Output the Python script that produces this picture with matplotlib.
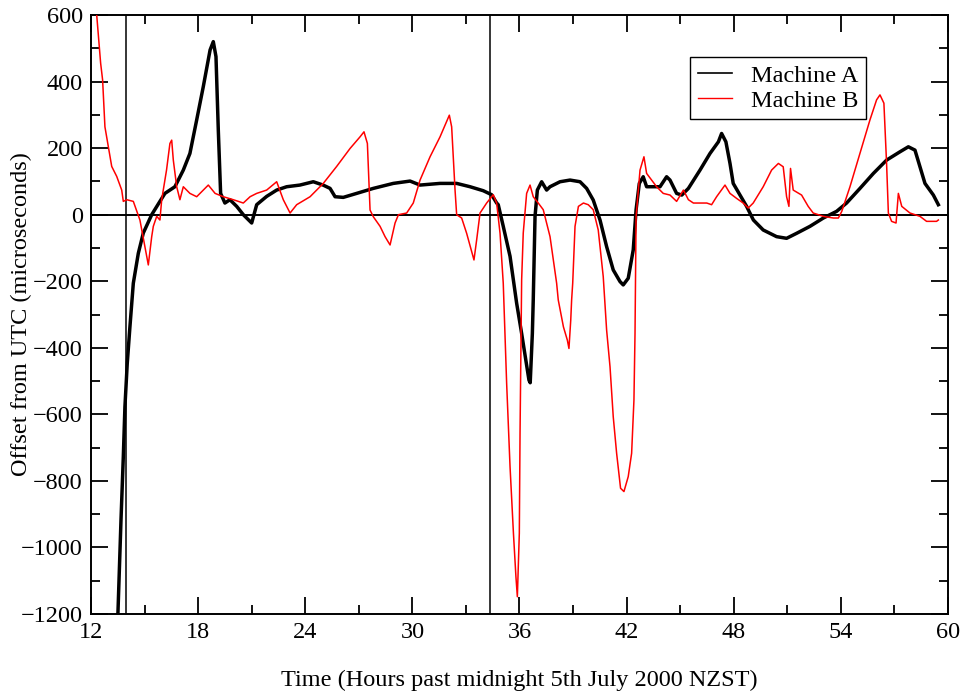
import matplotlib
matplotlib.use("Agg")
import matplotlib.pyplot as plt
from matplotlib.lines import Line2D
from matplotlib.ticker import MultipleLocator

plt.rcParams['font.family'] = ['Liberation Serif', 'DejaVu Serif']

# Machine A: offset from UTC (microseconds) vs hours past midnight
hours_a = [13.40, 13.51, 13.68, 13.81, 13.90, 14.03, 14.18, 14.37, 14.65, 14.93,
           15.40, 15.86, 16.14, 16.70, 17.17, 17.54, 17.92, 18.29, 18.67, 18.85,
           19.00, 19.13, 19.26, 19.50, 19.78, 20.16, 20.53, 21.00, 21.28, 21.84,
           22.40, 22.96, 23.70, 24.45, 25.00, 25.39, 25.67, 26.13, 26.88, 27.81,
           28.93, 29.87, 30.43, 31.55, 32.48, 33.23, 33.97, 34.44, 34.72, 34.81,
           35.09, 35.47, 35.84, 36.12, 36.53, 36.60, 36.72, 36.77, 36.87, 37.00,
           37.24, 37.52, 37.71, 38.27, 38.83, 39.39, 39.76, 40.13, 40.51, 40.88,
           41.25, 41.63, 41.81, 42.09, 42.37, 42.53, 42.71, 42.93, 43.12, 43.50,
           43.87, 44.24, 44.43, 44.80, 45.09, 45.46, 46.11, 46.67, 47.14, 47.32,
           47.56, 47.79, 47.97, 48.35, 48.72, 49.10, 49.65, 50.40, 50.96, 51.52,
           52.27, 53.02, 53.76, 54.32, 55.07, 55.82, 56.56, 57.31, 57.78, 58.15,
           58.43, 58.71, 59.18, 59.46]
offset_a = [-1260, -1195, -917, -727, -577, -447, -337, -206, -116, -55,
            0, 40, 64, 84, 134, 184, 285, 385, 495, 520,
            475, 254, 64, 35, 45, 25, 0, -25, 30, 55,
            74, 84, 89, 99, 89, 79, 54, 52, 64, 79,
            94, 101, 89, 94, 94, 84, 72, 60, 35, 30,
            -35, -125, -266, -357, -497, -505, -357, -256, -5, 74,
            99, 74, 84, 99, 104, 99, 79, 44, -16, -96,
            -166, -201, -211, -191, -106, 15, 94, 114, 84, 84,
            84, 114, 104, 64, 59, 79, 134, 184, 219, 244,
            219, 154, 94, 59, 25, -16, -46, -66, -71, -56,
            -35, -10, 10, 35, 79, 124, 164, 189, 204, 194,
            144, 94, 59, 30]

# Machine B
hours_b = [12.20, 12.32, 12.41, 12.54, 12.65, 12.78, 12.97, 13.16, 13.44, 13.72,
           13.81, 14.00, 14.37, 14.74, 15.02, 15.21, 15.40, 15.49, 15.68, 15.86,
           15.96, 16.23, 16.42, 16.52, 16.61, 16.80, 16.98, 17.17, 17.54, 17.92,
           18.29, 18.57, 18.95, 19.41, 19.97, 20.53, 20.91, 21.28, 21.84, 22.40,
           22.77, 23.15, 23.52, 24.27, 25.01, 25.76, 26.51, 27.07, 27.29, 27.48,
           27.63, 27.81, 28.19, 28.47, 28.75, 29.03, 29.22, 29.68, 30.05, 30.43,
           30.99, 31.55, 32.07, 32.20, 32.39, 32.48, 32.76, 33.04, 33.32, 33.45,
           33.60, 33.79, 34.16, 34.53, 34.72, 34.91, 35.09, 35.28, 35.47, 35.66,
           35.80, 35.88, 35.99, 36.03, 36.12, 36.21, 36.40, 36.59, 36.77, 37.05,
           37.33, 37.71, 38.08, 38.17, 38.46, 38.68, 38.77, 38.87, 38.92, 38.98,
           39.11, 39.30, 39.58, 39.85, 40.13, 40.41, 40.69, 40.88, 41.07, 41.25,
           41.44, 41.66, 41.85, 42.09, 42.28, 42.41, 42.47, 42.53, 42.75, 42.97,
           43.12, 43.68, 44.05, 44.43, 44.80, 45.18, 45.46, 45.74, 46.49, 46.76,
           47.04, 47.51, 47.79, 48.16, 48.53, 48.81, 49.09, 49.65, 50.12, 50.50,
           50.77, 50.96, 51.09, 51.18, 51.33, 51.80, 52.17, 52.45, 53.02, 53.58,
           53.86, 54.05, 54.51, 55.07, 55.63, 56.00, 56.19, 56.41, 56.56, 56.66,
           56.84, 57.09, 57.22, 57.41, 57.87, 58.43, 58.80, 59.36, 59.46]
offset_b = [650, 600, 540, 455, 405, 264, 204, 145, 115, 74,
            40, 45, 40, -16, -96, -151, -66, -35, -5, -16,
            45, 134, 214, 224, 164, 84, 45, 84, 64, 54,
            74, 89, 64, 54, 45, 35, 54, 64, 74, 99,
            45, 5, 30, 54, 94, 145, 199, 234, 249, 214,
            14, -6, -35, -66, -91, -25, 0, 5, 35, 104,
            174, 234, 299, 264, 74, 0, -10, -56, -111, -136,
            -76, 5, 35, 60, 35, -56, -206, -507, -757, -957,
            -1088, -1148, -957, -657, -196, -55, 64, 89, 54, 35,
            15, -66, -206, -256, -337, -377, -402, -317, -256, -206,
            -35, 25, 35, 30, 15, -46, -186, -347, -457, -607,
            -717, -822, -832, -787, -717, -557, -357, -5, 134, 174,
            124, 84, 64, 59, 40, 74, 45, 35, 35, 30,
            54, 89, 64, 49, 35, 20, 35, 84, 134, 154,
            144, 54, 25, 139, 74, 59, 25, 5, -5, -10,
            -10, 10, 84, 184, 285, 345, 360, 335, 154, 5,
            -20, -25, 64, 25, 5, -5, -20, -20, -16]

# clock step events
markers_h = [13.94, 34.35]

fs = 17.5

fig = plt.figure(figsize=(9.64, 6.95), dpi=100)
ax = fig.add_axes([0.0944, 0.1165, 0.889, 0.8619])

ax.plot(hours_a, offset_a, color='black', lw=2.5, zorder=3)
ax.plot(hours_b, offset_b, color='red', lw=1.1, zorder=4)
ax.axhline(0, color='black', lw=1.4, zorder=2)
for h in markers_h:
    ax.axvline(h, color='black', lw=1.1, zorder=2)

ax.set_xlim(12, 60)
ax.set_ylim(-1200, 600)
ax.xaxis.set_major_locator(MultipleLocator(6))
ax.xaxis.set_minor_locator(MultipleLocator(3))
ax.yaxis.set_major_locator(MultipleLocator(200))
ax.yaxis.set_minor_locator(MultipleLocator(100))
ax.tick_params(which='both', direction='in', top=True, right=True,
               labelsize=fs, width=1.3, pad=6)
ax.tick_params(which='major', length=12)
ax.tick_params(which='minor', length=6.5)
for s in ax.spines.values():
    s.set_linewidth(1.4)

ax.set_xlabel('Time (Hours past midnight 5th July 2000 NZST)', fontsize=fs)
ax.set_ylabel('Offset from UTC (microseconds)', fontsize=fs)
ax.xaxis.set_label_coords(0.5, -0.093)
ax.yaxis.set_label_coords(-0.069, 0.5)

handles = [Line2D([], [], color='black', lw=1.2), Line2D([], [], color='red', lw=1.0)]
leg = ax.legend(handles, ['Machine A', 'Machine B'], loc='upper left',
                bbox_to_anchor=(0.699, 0.93), fontsize=fs, frameon=True,
                fancybox=False, edgecolor='black', framealpha=1,
                handlelength=1.4, handletextpad=0.8, labelspacing=0.12,
                borderpad=0.32, borderaxespad=0)
leg.get_frame().set_linewidth(1.0)

fig.savefig('out.png', dpi=100)
